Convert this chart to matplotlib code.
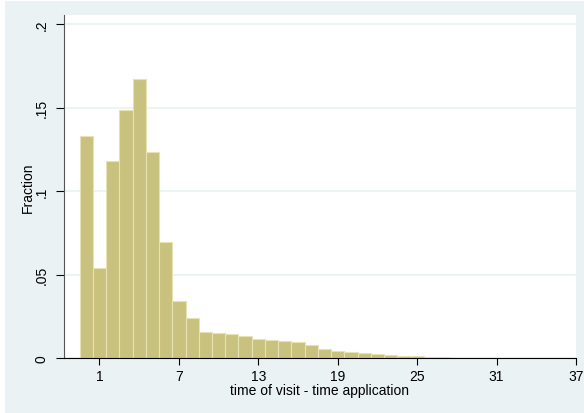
import matplotlib
matplotlib.use("Agg")
import matplotlib.pyplot as plt
from matplotlib.patches import Rectangle

# histogram bins (width 1, centred on integers) and fractions
bins = list(range(0, 28))
fractions = [0.1328, 0.0539, 0.1181, 0.1485, 0.1669, 0.1232, 0.0693, 0.0343,
             0.0240, 0.0156, 0.0148, 0.0141, 0.0130, 0.0116, 0.0106, 0.0100,
             0.0094, 0.0078, 0.0056, 0.0044, 0.0038, 0.0032, 0.0026, 0.0020,
             0.0014, 0.0010, 0.0006, 0.0003]

xticks = [1, 7, 13, 19, 25, 31, 37]
yticks = [0, 0.05, 0.1, 0.15, 0.2]
ytick_labels = ["0", ".05", ".1", ".15", ".2"]

plt.rcParams['font.family'] = ['Liberation Sans', 'DejaVu Sans']

bg = "#eaf2f3"
fig = plt.figure(figsize=(5.84, 4.14), dpi=100, facecolor="white")
# graph region, inset a little from the white outer border
fig.patches.append(Rectangle((5 / 584, 0), 579 / 584, 412 / 414,
                             transform=fig.transFigure, facecolor=bg,
                             edgecolor="none", zorder=-10))

ax = fig.add_axes([64 / 584, 55 / 414, 512 / 584, 343 / 414])
ax.set_zorder(1)
ax.set_facecolor("white")

ax.bar(bins, fractions, width=1.0, color="#c9c27f", edgecolor="#e6e2b4",
       linewidth=0.8, zorder=2)

ax.set_xlim(-1.68, 37)
ax.set_ylim(0, 0.2054)

ax.set_yticks(yticks)
ax.set_yticklabels(ytick_labels, rotation=90, va="center")
ax.set_xticks(xticks)
ax.grid(axis="y", color=bg, linewidth=1.2, zorder=0)

for s in ["top", "right"]:
    ax.spines[s].set_visible(False)
ax.spines["left"].set_color("#555555")
ax.spines["bottom"].set_color("black")
ax.tick_params(axis="x", direction="out", length=5, labelsize=10,
               colors="black", pad=3)
ax.tick_params(axis="y", direction="out", length=6, labelsize=10,
               colors="black", pad=5)

ax.set_ylabel("Fraction", fontsize=10, labelpad=0)
ax.set_xlabel("time of visit - time application", fontsize=10, labelpad=0)

fig.savefig("out.png", dpi=100, facecolor="white")
